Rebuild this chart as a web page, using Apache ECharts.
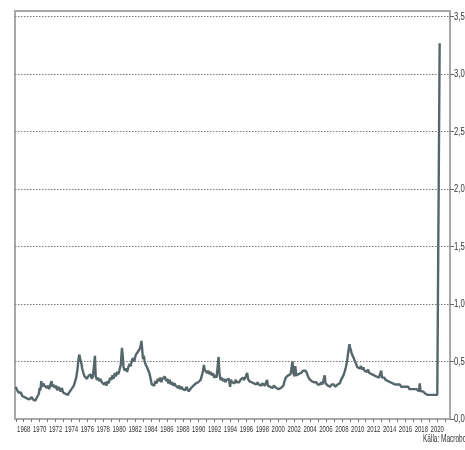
<!DOCTYPE html>
<html>
<head>
<meta charset="utf-8">
<script src="https://cdn.jsdelivr.net/npm/echarts@6/dist/echarts.min.js"></script>
<style>
html,body{margin:0;padding:0;background:#fff;}
#c{width:465px;height:450px;}
</style>
</head>
<body>
<div id="c"></div>
<script>
const years = [
1967.00,1967.10,1967.20,1967.35,1967.50,1967.65,1967.80,1967.95,1968.10,1968.25,1968.40,1968.55,1968.70,1968.85,1969.00,1969.15,1969.30,1969.45,1969.60,1969.75,1969.90,
1970.00,1970.10,1970.20,1970.30,1970.45,1970.60,1970.75,1970.90,1971.05,1971.20,1971.35,1971.50,1971.60,1971.75,1971.90,1972.05,1972.20,1972.35,1972.50,1972.65,1972.80,1972.95,
1973.10,1973.25,1973.40,1973.55,1973.70,1973.85,1974.00,1974.15,1974.30,1974.45,1974.60,1974.75,1974.90,1975.00,1975.10,1975.20,1975.35,1975.50,1975.65,1975.80,1975.95,
1976.10,1976.25,1976.40,1976.55,1976.70,1976.85,1976.95,1977.05,1977.20,1977.35,1977.50,1977.65,1977.80,1977.95,1978.10,1978.25,1978.40,1978.55,1978.70,1978.85,
1979.00,1979.15,1979.30,1979.45,1979.60,1979.75,1979.90,1980.05,1980.20,1980.35,1980.45,1980.55,1980.70,1980.85,1981.00,1981.15,1981.30,1981.45,1981.60,1981.75,1981.90,
1982.05,1982.20,1982.35,1982.50,1982.65,1982.80,1982.90,1983.00,1983.10,1983.20,1983.35,1983.50,1983.65,1983.80,1983.95,1984.10,1984.25,1984.40,1984.55,1984.70,1984.85,
1985.00,1985.15,1985.30,1985.45,1985.60,1985.75,1985.90,1986.05,1986.20,1986.35,1986.50,1986.65,1986.80,1986.95,1987.10,1987.25,1987.40,1987.55,1987.70,1987.85,
1988.00,1988.15,1988.30,1988.45,1988.60,1988.75,1988.90,1989.05,1989.20,1989.35,1989.50,1989.65,1989.80,1989.95,1990.10,1990.25,1990.40,1990.55,1990.65,1990.75,1990.90,
1991.05,1991.20,1991.35,1991.50,1991.65,1991.80,1991.95,1992.10,1992.25,1992.40,1992.50,1992.60,1992.75,1992.90,1993.05,1993.20,1993.35,1993.50,1993.65,1993.80,1993.95,
1994.05,1994.20,1994.35,1994.50,1994.65,1994.80,1994.95,1995.10,1995.25,1995.40,1995.55,1995.70,1995.85,1996.00,1996.10,1996.20,1996.35,1996.50,1996.65,1996.80,1996.95,
1997.10,1997.25,1997.40,1997.55,1997.70,1997.85,1998.00,1998.15,1998.30,1998.45,1998.60,1998.70,1998.85,1999.00,1999.15,1999.30,1999.45,1999.60,1999.75,1999.90,
2000.05,2000.20,2000.35,2000.50,2000.65,2000.80,2000.95,2001.10,2001.25,2001.40,2001.55,2001.70,2001.80,2001.90,2002.05,2002.15,2002.25,2002.40,2002.55,2002.70,2002.85,
2003.00,2003.15,2003.30,2003.45,2003.60,2003.75,2003.90,2004.05,2004.20,2004.35,2004.50,2004.65,2004.80,2004.95,2005.10,2005.25,2005.40,2005.55,2005.70,2005.85,2005.95,
2006.10,2006.25,2006.40,2006.55,2006.70,2006.85,2007.00,2007.15,2007.30,2007.45,2007.60,2007.75,2007.90,2008.05,2008.20,2008.35,2008.50,2008.65,2008.80,2008.95,
2009.05,2009.20,2009.35,2009.50,2009.65,2009.80,2009.95,2010.10,2010.25,2010.40,2010.55,2010.70,2010.85,2011.00,2011.15,2011.30,2011.45,2011.60,2011.75,2011.90,
2012.05,2012.20,2012.35,2012.50,2012.65,2012.80,2012.95,2013.05,2013.20,2013.35,2013.50,2013.65,2013.80,2013.95,2014.10,2014.25,2014.40,2014.55,2014.70,2014.85,
2015.00,2015.15,2015.30,2015.45,2015.60,2015.75,2015.90,2016.05,2016.20,2016.35,2016.50,2016.65,2016.80,2016.95,2017.10,2017.25,2017.40,2017.55,2017.70,2017.80,2017.90,
2018.05,2018.20,2018.35,2018.50,2018.65,2018.80,2018.95,2019.10,2019.25,2019.40,2019.55,2019.70,2019.85,2020.00,2020.15,2020.25,2020.30
];
const values = [
0.28,0.26,0.27,0.23,0.22,0.23,0.20,0.21,0.19,0.20,0.18,0.19,0.17,0.18,0.19,0.17,0.18,0.16,0.18,0.19,0.22,
0.27,0.25,0.33,0.28,0.31,0.29,0.30,0.27,0.29,0.26,0.30,0.33,0.28,0.30,0.27,0.29,0.25,0.28,0.26,0.24,0.27,0.23,
0.24,0.22,0.23,0.21,0.23,0.24,0.26,0.25,0.29,0.30,0.36,0.43,0.53,0.56,0.52,0.50,0.44,0.40,0.37,0.38,0.35,
0.37,0.36,0.39,0.35,0.37,0.36,0.55,0.37,0.34,0.36,0.33,0.35,0.32,0.33,0.30,0.32,0.29,0.33,0.31,0.36,
0.34,0.38,0.35,0.40,0.37,0.41,0.39,0.43,0.47,0.62,0.55,0.45,0.42,0.44,0.41,0.45,0.48,0.46,0.51,0.53,0.50,
0.55,0.57,0.56,0.60,0.62,0.68,0.60,0.52,0.55,0.50,0.47,0.45,0.44,0.40,0.35,0.30,0.31,0.29,0.33,0.31,0.35,
0.33,0.36,0.32,0.35,0.34,0.37,0.33,0.35,0.31,0.34,0.30,0.32,0.29,0.31,0.29,0.30,0.27,0.29,0.26,0.28,
0.26,0.27,0.25,0.28,0.26,0.24,0.25,0.27,0.26,0.29,0.28,0.31,0.30,0.32,0.31,0.34,0.38,0.42,0.47,0.43,0.44,
0.40,0.42,0.39,0.41,0.38,0.40,0.36,0.38,0.36,0.35,0.54,0.40,0.34,0.36,0.33,0.35,0.32,0.34,0.33,0.35,0.28,
0.34,0.32,0.33,0.31,0.34,0.32,0.33,0.32,0.34,0.33,0.36,0.34,0.36,0.35,0.40,0.35,0.33,0.34,0.32,0.33,0.31,
0.32,0.30,0.32,0.30,0.31,0.29,0.31,0.30,0.29,0.30,0.34,0.29,0.30,0.28,0.29,0.27,0.29,0.28,0.27,0.28,
0.26,0.25,0.27,0.26,0.29,0.33,0.36,0.37,0.38,0.37,0.39,0.38,0.50,0.40,0.37,0.46,0.38,0.37,0.39,0.38,0.40,
0.41,0.42,0.43,0.42,0.40,0.37,0.35,0.34,0.33,0.34,0.32,0.31,0.32,0.30,0.31,0.30,0.32,0.30,0.31,0.38,0.31,
0.30,0.29,0.30,0.28,0.30,0.29,0.30,0.28,0.29,0.30,0.29,0.31,0.34,0.36,0.38,0.41,0.45,0.50,0.58,0.65,
0.62,0.58,0.55,0.53,0.50,0.48,0.45,0.46,0.44,0.46,0.43,0.45,0.42,0.43,0.41,0.43,0.40,0.41,0.39,0.40,
0.38,0.39,0.37,0.38,0.36,0.37,0.42,0.36,0.35,0.36,0.34,0.35,0.33,0.34,0.32,0.33,0.31,0.32,0.30,0.31,
0.30,0.29,0.30,0.28,0.29,0.28,0.27,0.28,0.27,0.28,0.26,0.27,0.26,0.25,0.26,0.25,0.26,0.25,0.24,0.31,0.24,
0.23,0.24,0.23,0.22,0.23,0.21,0.22,0.21,0.20,0.21,0.20,0.21,0.20,0.21,0.20,0.21,3.27
];
const yearTicks = [1967,1968,1969,1970,1971,1972,1973,1974,1975,1976,1977,1978,1979,1980,1981,1982,1983,1984,1985,1986,1987,1988,1989,1990,1991,1992,1993,1994,1995,1996,1997,1998,1999,2000,2001,2002,2003,2004,2005,2006,2007,2008,2009,2010,2011,2012,2013,2014,2015,2016,2017,2018,2019,2020,2021];
const yearLabels = [1968,1970,1972,1974,1976,1978,1980,1982,1984,1986,1988,1990,1992,1994,1996,1998,2000,2002,2004,2006,2008,2010,2012,2014,2016,2018,2020];
const valueTicks = [0,0.5,1,1.5,2,2.5,3,3.5];
const sourceText = 'Källa: Macrobond';

const FONT = '"Liberation Sans",Arial,sans-serif';
const chart = echarts.init(document.getElementById('c'), null, {renderer:'canvas'});
chart.setOption({
  animation:false,
  backgroundColor:'#ffffff',
  grid:{left:15,right:15,top:11,bottom:31,show:true,borderColor:'#a8a8a8',borderWidth:2,backgroundColor:'transparent'},
  xAxis:{
    type:'value', min:1966.9, max:2021.6,
    axisLine:{show:true,lineStyle:{color:'#a8a8a8',width:2}},
    axisTick:{show:true,customValues:yearTicks,length:3,lineStyle:{color:'#777',width:1}},
    axisLabel:{show:false},
    splitLine:{show:false}
  },
  yAxis:{
    type:'value', position:'right', min:0, max:3.55,
    axisLine:{show:true,lineStyle:{color:'#a8a8a8',width:2}},
    axisTick:{show:true,customValues:valueTicks,length:4,lineStyle:{color:'#666',width:1}},
    axisLabel:{show:false},
    splitLine:{show:true,lineStyle:{color:'#777',type:[1.5,1.5],width:1}}
  },
  series:[{
    type:'line',
    data:years.map((y,i)=>[y,values[i]]),
    showSymbol:false,
    lineStyle:{color:'#56676c',width:2.4},
    itemStyle:{color:'#56676c'},
    z:3
  }]
});

// Axis labels placed through the axes' own scales, drawn in a condensed style.
const gfx = [];
yearLabels.forEach(function(yr){
  const px = chart.convertToPixel({xAxisIndex:0}, yr);
  gfx.push({type:'text', x:px, y:424, scaleX:0.63,
    style:{text:String(yr), fontFamily:FONT, fontSize:9.5, fill:'#333', align:'center', verticalAlign:'top'}});
});
valueTicks.forEach(function(v){
  const py = chart.convertToPixel({yAxisIndex:0}, v);
  gfx.push({type:'text', x:454, y:py, scaleX:0.7,
    style:{text:v.toFixed(1).replace('.', ','), fontFamily:FONT, fontSize:11, fill:'#333', align:'left', verticalAlign:'middle'}});
});
gfx.push({type:'text', x:423, y:434, scaleX:0.65,
  style:{text:sourceText, fontFamily:FONT, fontSize:10, fill:'#333', align:'left', verticalAlign:'top'}});
chart.setOption({graphic:gfx});
</script>
</body>
</html>
